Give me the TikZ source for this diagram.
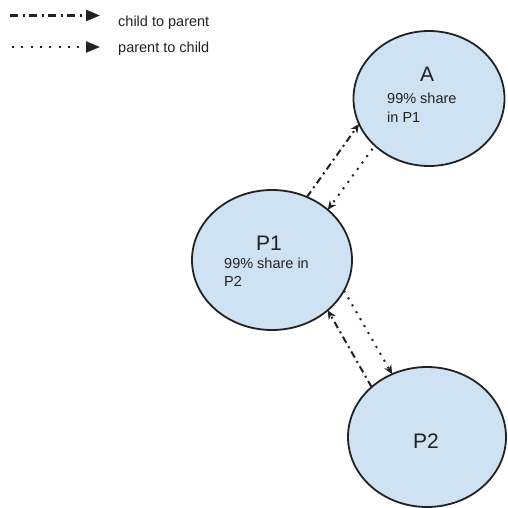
\documentclass[tikz,border=0pt]{standalone}
\usepackage{fontspec}
\setmainfont{Liberation Sans}
\usetikzlibrary{shapes.geometric,arrows.meta}

\definecolor{bubble}{HTML}{CFE2F3}
\definecolor{ink}{HTML}{222222}

\tikzset{
  bubblenode/.style={ellipse, draw=ink, line width=1.8pt, fill=bubble,
    inner sep=0pt, outer sep=0pt},
  bigtext/.style={font=\fontsize{21}{24}\selectfont, text=ink, inner sep=0pt},
  smalltext/.style={font=\fontsize{14.5}{19}\selectfont, text=ink, inner sep=0pt,
    align=left},
  dashdotline/.style={line width=2pt, ink,
    dash pattern=on 7pt off 4pt on 2pt off 4pt},
  dotline/.style={line width=2pt, ink, dash pattern=on 2pt off 6pt},
  linkarrow/.style={-{Stealth[length=9pt,width=8pt,inset=3pt]}},
  keyarrow/.style={-{Triangle[length=14pt,width=11pt]}}
}

\begin{document}
\begin{tikzpicture}[x=1pt,y=-1pt]
\useasboundingbox (0,0) rectangle (507,508);

% legend
\coordinate (k1s) at (10,15.5);
\coordinate (k1e) at (100,15.5);
\coordinate (k2s) at (12,47);
\coordinate (k2e) at (100,47);
\draw[dashdotline, line width=2.5pt, dash pattern=on 8pt off 4.5pt on 2pt off 4.5pt, keyarrow] (k1s) -- (k1e);
\draw[dotline, dash pattern=on 2pt off 7.3pt, keyarrow] (k2s) -- (k2e);
\node[smalltext, anchor=base west] (k1t) at (118,27) {child to parent};
\node[smalltext, anchor=base west] (k2t) at (118,53) {parent to child};

% entities
\node[bubblenode, minimum width=151pt, minimum height=135pt] (A) at (429,98.5) {};
\node[bubblenode, minimum width=160pt, minimum height=140pt] (P1) at (272,260) {};
\node[bubblenode, minimum width=158pt, minimum height=140pt] (P2) at (427,437) {};

% labels (multi-line blocks are anchored on their last line)
\node[bigtext, anchor=base] (Aname) at (427,82) {A};
\node[smalltext, anchor=base west] (Ainfo) at (387,122) {99\% share\\in P1};
\node[bigtext, anchor=base] (P1name) at (269,250) {P1};
\node[smalltext, anchor=base west, font=\fontsize{14.5}{18}\selectfont] (P1info) at (224,286) {99\% share in\\P2};
\node[bigtext, anchor=base] (P2name) at (426,448) {P2};

% ownership links
\draw[dashdotline, linkarrow] (P1.61) -- (A.200);
\draw[dotline, linkarrow, shorten <=4pt] (A.221) -- (P1.42);
\draw[dotline, linkarrow] (P1.337) -- (P2.119);
\draw[dashdotline, linkarrow] (P2.138) -- (P1.318);
\end{tikzpicture}
\end{document}
